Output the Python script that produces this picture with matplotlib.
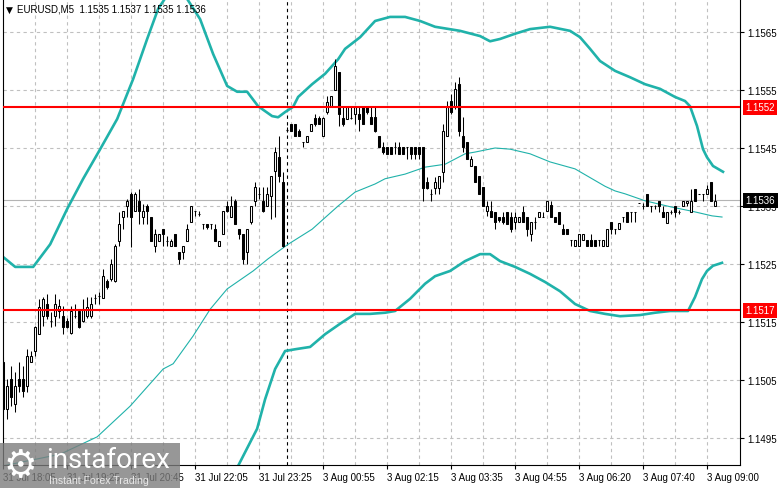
import matplotlib
matplotlib.use('Agg')
import matplotlib.pyplot as plt
from matplotlib.patches import Rectangle

# ---------------- data ----------------
opens = [1.15081,1.15000,1.15052,1.15009,1.15052,1.15052,1.15040,1.15081,1.15100,1.15129,
         1.15160,1.15181,1.15152,1.15160,1.15169,1.15160,1.15152,1.15131,1.15160,1.15169,
         1.15152,1.15160,1.15160,1.15191,1.15195,1.15191,1.15221,1.15224,1.15221,1.15290,
         1.15331,1.15350,1.15371,1.15341,1.15359,1.15331,1.15350,1.15331,1.15281,1.15290,
         1.15310,1.15290,1.15281,1.15302,1.15271,1.15271,1.15290,1.15322,1.15341,1.15336,
         1.15319,1.15319,1.15319,1.15310,1.15281,1.15302,1.15350,1.15331,1.15359,1.15310,
         1.15302,1.15271,1.15322,1.15359,1.15371,1.15359,1.15350,1.15367,1.15410,1.15434,
         1.15391,1.15481,1.15491,1.15491,1.15479,1.15460,1.15460,1.15479,1.15502,1.15502,
         1.15471,1.15512,1.15522,1.15550,1.15581,1.15502,1.15500,1.15502,1.15509,1.15509,
         1.15521,1.15521,1.15503,1.15503,1.15471,1.15452,1.15452,1.15452,1.15452,1.15452,
         1.15452,1.15452,1.15452,1.15452,1.15452,1.15452,1.15391,1.15371,1.15381,1.15381,
         1.15409,1.15471,1.15531,1.15521,1.15560,1.15471,1.15460,1.15419,1.15419,1.15402,
         1.15383,1.15341,1.15341,1.15340,1.15331,1.15331,1.15340,1.15331,1.15322,1.15322,
         1.15340,1.15331,1.15302,1.15322,1.15331,1.15331,1.15341,1.15352,1.15331,1.15340,
         1.15310,1.15310,1.15291,1.15281,1.15281,1.15291,1.15291,1.15291,1.15291,1.15291,
         1.15281,1.15281,1.15322,1.15310,1.15310,1.15331,1.15340,1.15340,1.15340,1.15355,
         1.15350,1.15371,1.15350,1.15350,1.15359,1.15340,1.15321,1.15340,1.15350,1.15340,
         1.15350,1.15355,1.15340,1.15379,1.15371,1.15371,1.15371,1.15391,1.15350]
highs = [1.15090,1.15052,1.15074,1.15064,1.15081,1.15074,1.15103,1.15100,1.15143,1.15190,
         1.15193,1.15198,1.15167,1.15198,1.15190,1.15178,1.15157,1.15178,1.15181,1.15172,
         1.15190,1.15193,1.15193,1.15198,1.15202,1.15241,1.15224,1.15259,1.15284,1.15340,
         1.15341,1.15362,1.15374,1.15374,1.15379,1.15353,1.15353,1.15331,1.15310,1.15302,
         1.15310,1.15298,1.15293,1.15302,1.15271,1.15281,1.15319,1.15350,1.15341,1.15341,
         1.15319,1.15319,1.15319,1.15319,1.15290,1.15341,1.15359,1.15367,1.15362,1.15310,
         1.15302,1.15310,1.15350,1.15391,1.15383,1.15383,1.15383,1.15402,1.15452,1.15471,
         1.15409,1.15486,1.15491,1.15491,1.15483,1.15460,1.15471,1.15491,1.15509,1.15505,
         1.15503,1.15540,1.15540,1.15603,1.15581,1.15521,1.15521,1.15521,1.15521,1.15521,
         1.15521,1.15521,1.15521,1.15521,1.15471,1.15460,1.15452,1.15452,1.15460,1.15460,
         1.15452,1.15452,1.15452,1.15452,1.15452,1.15452,1.15400,1.15379,1.15400,1.15402,
         1.15491,1.15531,1.15543,1.15564,1.15572,1.15503,1.15460,1.15436,1.15419,1.15402,
         1.15383,1.15359,1.15359,1.15340,1.15331,1.15340,1.15340,1.15340,1.15340,1.15331,
         1.15350,1.15331,1.15322,1.15331,1.15340,1.15340,1.15359,1.15359,1.15331,1.15340,
         1.15319,1.15310,1.15291,1.15291,1.15302,1.15302,1.15291,1.15302,1.15291,1.15291,
         1.15291,1.15310,1.15322,1.15310,1.15321,1.15331,1.15340,1.15340,1.15340,1.15355,
         1.15355,1.15371,1.15350,1.15352,1.15359,1.15350,1.15340,1.15343,1.15350,1.15343,
         1.15359,1.15359,1.15379,1.15379,1.15371,1.15371,1.15386,1.15391,1.15370]
lows = [1.14995,1.14983,1.15005,1.14995,1.15029,1.15021,1.15029,1.15081,1.15091,1.15129,
        1.15143,1.15155,1.15141,1.15143,1.15157,1.15129,1.15140,1.15129,1.15157,1.15140,
        1.15150,1.15157,1.15157,1.15181,1.15181,1.15191,1.15207,1.15221,1.15219,1.15281,
        1.15310,1.15331,1.15279,1.15341,1.15319,1.15319,1.15319,1.15290,1.15271,1.15290,
        1.15281,1.15281,1.15281,1.15281,1.15250,1.15259,1.15290,1.15322,1.15333,1.15333,
        1.15310,1.15310,1.15310,1.15290,1.15281,1.15302,1.15340,1.15331,1.15319,1.15293,
        1.15250,1.15250,1.15319,1.15350,1.15362,1.15340,1.15350,1.15327,1.15331,1.15391,
        1.15279,1.15478,1.15479,1.15471,1.15471,1.15452,1.15460,1.15479,1.15488,1.15491,
        1.15471,1.15509,1.15522,1.15550,1.15488,1.15488,1.15500,1.15500,1.15491,1.15479,
        1.15491,1.15509,1.15491,1.15477,1.15452,1.15440,1.15440,1.15440,1.15440,1.15440,
        1.15440,1.15431,1.15431,1.15431,1.15431,1.15359,1.15379,1.15359,1.15371,1.15371,
        1.15391,1.15471,1.15509,1.15517,1.15471,1.15443,1.15431,1.15419,1.15391,1.15371,
        1.15350,1.15333,1.15331,1.15310,1.15322,1.15319,1.15319,1.15305,1.15310,1.15322,
        1.15322,1.15298,1.15290,1.15310,1.15331,1.15331,1.15341,1.15331,1.15322,1.15319,
        1.15302,1.15302,1.15281,1.15281,1.15281,1.15291,1.15281,1.15281,1.15281,1.15281,
        1.15281,1.15281,1.15302,1.15302,1.15310,1.15322,1.15322,1.15322,1.15322,1.15355,
        1.15345,1.15350,1.15340,1.15345,1.15340,1.15331,1.15321,1.15337,1.15331,1.15337,
        1.15350,1.15350,1.15340,1.15359,1.15371,1.15359,1.15371,1.15359,1.15350]
closes = [1.15000,1.15040,1.15021,1.15040,1.15040,1.15031,1.15091,1.15091,1.15141,1.15176,
          1.15190,1.15160,1.15152,1.15181,1.15178,1.15141,1.15141,1.15169,1.15160,1.15141,
          1.15172,1.15176,1.15181,1.15191,1.15195,1.15229,1.15210,1.15250,1.15281,1.15319,
          1.15341,1.15359,1.15331,1.15371,1.15341,1.15341,1.15341,1.15290,1.15302,1.15302,
          1.15302,1.15290,1.15290,1.15281,1.15259,1.15281,1.15310,1.15350,1.15341,1.15336,
          1.15319,1.15314,1.15319,1.15290,1.15290,1.15341,1.15341,1.15350,1.15319,1.15302,
          1.15259,1.15310,1.15350,1.15383,1.15371,1.15341,1.15371,1.15402,1.15443,1.15402,
          1.15281,1.15481,1.15479,1.15471,1.15471,1.15460,1.15471,1.15491,1.15491,1.15491,
          1.15502,1.15529,1.15540,1.15591,1.15509,1.15491,1.15521,1.15502,1.15521,1.15500,
          1.15491,1.15512,1.15491,1.15479,1.15452,1.15443,1.15440,1.15440,1.15452,1.15440,
          1.15440,1.15452,1.15440,1.15440,1.15440,1.15381,1.15381,1.15371,1.15391,1.15402,
          1.15479,1.15521,1.15512,1.15552,1.15479,1.15452,1.15431,1.15431,1.15391,1.15371,
          1.15350,1.15350,1.15331,1.15322,1.15326,1.15322,1.15319,1.15310,1.15331,1.15331,
          1.15322,1.15310,1.15322,1.15322,1.15340,1.15331,1.15359,1.15331,1.15322,1.15319,
          1.15302,1.15302,1.15291,1.15291,1.15302,1.15302,1.15281,1.15281,1.15281,1.15291,
          1.15291,1.15310,1.15310,1.15310,1.15321,1.15331,1.15322,1.15340,1.15340,1.15355,
          1.15350,1.15350,1.15350,1.15350,1.15350,1.15331,1.15340,1.15340,1.15340,1.15340,
          1.15359,1.15359,1.15359,1.15359,1.15371,1.15371,1.15379,1.15359,1.15359]

upper_idx = [0,3,7.5,11.75,16,20,24.25,28.5,32.5,36,38.75,41.75,46,49.25,52.5,56,58.5,61,
             63.75,67.25,68.75,70.5,72.5,73.75,77.25,80.5,83.75,85.5,89.25,93,96.75,100.5,
             104.25,108,114.25,119.25,121.75,124.25,128,131.75,136.75,141.75,144.25,146.75,
             149.25,153,156.75,160.5,164.25,168,170.5,171.75,173.5,175,176,177.5,180]
upper_val = [1.15262,1.15245,1.15245,1.15284,1.15345,1.15397,1.15448,1.15500,1.15569,1.15638,
             1.15690,1.15721,1.15707,1.15672,1.15612,1.15557,1.15547,1.15547,1.15522,1.15505,
             1.15503,1.15512,1.15521,1.15538,1.15560,1.15578,1.15603,1.15621,1.15641,1.15669,
             1.15676,1.15676,1.15669,1.15659,1.15652,1.15643,1.15634,1.15638,1.15647,1.15655,
             1.15659,1.15652,1.15641,1.15621,1.15600,1.15583,1.15572,1.15560,1.15552,1.15538,
             1.15531,1.15522,1.15488,1.15448,1.15434,1.15419,1.15409]

lower_idx = [58.75,63.5,65.5,68,70.5,73,76.75,80.5,84.25,88,91.75,95.5,98,101.75,105.5,108,
             111.75,115.5,119.25,121.75,124.25,128,131.75,135.5,139.25,143,146.75,150.5,
             154.25,159.25,163,166.75,171.25,173,174.75,176,177.5,179.75]
lower_val = [1.14902,1.14966,1.15017,1.15069,1.15100,1.15103,1.15107,1.15129,1.15147,1.15164,
             1.15164,1.15166,1.15169,1.15190,1.15216,1.15229,1.15238,1.15255,1.15267,1.15267,
             1.15255,1.15245,1.15233,1.15219,1.15203,1.15181,1.15169,1.15164,1.15160,1.15162,
             1.15166,1.15169,1.15169,1.15193,1.15224,1.15238,1.15247,1.15252]

mid_idx = [0,14.25,23.5,31.75,40,42.5,47.5,51.75,56,62.5,66.25,71.25,77.25,83.75,
           88,93,95.5,100.5,105.5,110.5,115.5,118,123,126.75,131.75,136.75,143,150.5,153,
           155.5,160.5,167.25,172.25,177.25,179.75]
mid_val = [1.14902,1.14922,1.14952,1.15005,1.15069,1.15078,1.15126,1.15172,1.15207,1.15238,
           1.15259,1.15284,1.15310,1.15350,1.15374,1.15388,1.15397,1.15405,1.15417,
           1.15422,1.15440,1.15443,1.15450,1.15448,1.15440,1.15426,1.15414,1.15384,1.15376,
           1.15371,1.15359,1.15348,1.15341,1.15333,1.15331]

resistance = 1.1552
support = 1.1517
last_price = 1.1536
day_break_bar = 71

y_ticks = [1.1565, 1.1555, 1.1545, 1.1535, 1.1525, 1.1515, 1.1505, 1.1495]
x_tick_bars = [0, 16, 32, 48, 64, 80, 96, 112, 128, 144, 160, 176]
x_tick_labels = ["31 Jul 18:05", "31 Jul 19:25", "31 Jul 20:45", "31 Jul 22:05",
                 "31 Jul 23:25", "3 Aug 00:55", "3 Aug 02:15", "3 Aug 03:35",
                 "3 Aug 04:55", "3 Aug 06:20", "3 Aug 07:40", "3 Aug 09:00"]
title = "EURUSD,M5  1.1535 1.1537 1.1535 1.1536"

# ---------------- figure ----------------
plt.rcParams['font.family'] = ['Liberation Sans', 'DejaVu Sans']
W, H = 781, 489
fig = plt.figure(figsize=(W / 100, H / 100), dpi=100)
fig.patch.set_facecolor('white')
Lp, Rp, Tp, Bp = 3, 740, 1, 466
ax = fig.add_axes([Lp / W, (H - Bp) / H, (Rp - Lp) / W, (Bp - Tp) / H])
ax.set_facecolor('white')

ppx = 58000.0
ax.set_ylim(1.1565 - (Bp - 33) / ppx, 1.1565 + (33 - Tp) / ppx)
ax.set_xlim(-0.05, (Rp - 3) / 4.0)

grid_col = '#c0c0c0'
for yv in y_ticks:
    ax.axhline(yv, color=grid_col, lw=0.8, ls=(0, (3, 3)), zorder=0)
for k in range(1, 23):
    ax.axvline(8 * k, color=grid_col, lw=0.8, ls=(0, (3, 3)), zorder=0)

# current price line
ax.axhline(last_price, color='#b4b4b4', lw=0.8, zorder=1)

# day separator
ax.axvline(day_break_bar, color='black', lw=0.8, ls=(0, (3, 3)), zorder=1)

# candles
teal = '#20b2aa'
for i, (o, h, l, c) in enumerate(zip(opens, highs, lows, closes)):
    ax.vlines(i, l, h, color='black', lw=0.75, zorder=3)
    bottom = min(o, c)
    height = abs(c - o)
    fc = 'white' if c >= o else 'black'
    ax.add_patch(Rectangle((i - 0.3, bottom), 0.6, height, facecolor=fc,
                           edgecolor='black', lw=0.75, zorder=4))

# bands
ax.plot(upper_idx, upper_val, color=teal, lw=1.9, zorder=2, solid_joinstyle='round')
ax.plot(lower_idx, lower_val, color=teal, lw=1.9, zorder=2, solid_joinstyle='round')
ax.plot(mid_idx, mid_val, color=teal, lw=0.8, zorder=2)

# levels
ax.axhline(resistance, color='#ff0000', lw=1.5, zorder=5)
ax.axhline(support, color='#ff0000', lw=1.5, zorder=5)

# axes styling
for s in ['left', 'bottom', 'right']:
    ax.spines[s].set_color('black')
    ax.spines[s].set_linewidth(0.8)
ax.spines['top'].set_visible(False)
ax.yaxis.tick_right()
ax.set_yticks(y_ticks)
ax.set_yticklabels([f"{v:.4f}" for v in y_ticks])
ax.set_xticks(x_tick_bars)
ax.set_xticklabels(x_tick_labels)
for lab in ax.get_xticklabels():
    lab.set_ha('left')
ax.tick_params(axis='y', direction='out', length=3, width=0.8, labelsize=7, pad=2, colors='black')
ax.tick_params(axis='x', direction='out', length=3, width=0.8, labelsize=7, pad=2, colors='black')

# right side price tags
def tag(price, bg):
    ax.annotate(f"{price:.4f}", xy=(1.0, price), xycoords=('axes fraction', 'data'),
                xytext=(4, 0), textcoords='offset points', va='center', ha='left',
                fontsize=7, color='white', zorder=10, annotation_clip=False,
                bbox=dict(boxstyle='square,pad=0.25', facecolor=bg, edgecolor='none'))

tag(resistance, '#ff0000')
tag(support, '#ff0000')
tag(last_price, 'black')

# title
fig.text(6 / W, 1 - 10 / H, "▼", fontsize=6.5, va='center', ha='left', color='black',
         family=['DejaVu Sans'])
fig.text(17 / W, 1 - 10 / H, title, fontsize=7, va='center', ha='left', color='black')

# watermark
fig.patches.append(Rectangle((0, 0), 180 / W, (H - 444) / H, transform=fig.transFigure,
                             facecolor='#7d7d7d', alpha=0.8, edgecolor='none', zorder=20))
fig.text(3 / W, (H - 467) / H, "⚙", fontsize=27, color='white', va='center', ha='left',
         family='DejaVu Sans', zorder=21)
fig.text(46 / W, (H - 461) / H, "instaforex", fontsize=20, color='white', va='center',
         ha='left', family=['Roboto', 'DejaVu Sans'], zorder=21)
fig.text(49 / W, (H - 481) / H, "Instant Forex Trading", fontsize=7.6, color='#e8e8e8',
         va='center', ha='left', family='Liberation Sans', zorder=21)

fig.savefig('out.png', dpi=100, facecolor='white')
